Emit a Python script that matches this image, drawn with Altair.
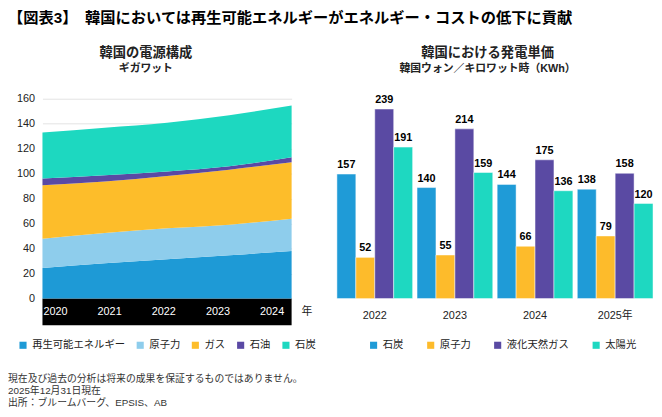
import altair as alt
import pandas as pd

FONT = "Liberation Sans, Noto Sans CJK JP"
INK = "#222222"

# 左: 韓国の電源構成（ギガワット）
years = [2020, 2021, 2022, 2023, 2024]
sources = ["再生可能エネルギー", "原子力", "ガス", "石油", "石炭"]
renewable = [24.5, 28.4, 31.6, 34.7, 38.2]
nuclear = [23.4, 24.2, 24.7, 24.5, 25.7]
gas = [42.9, 41.1, 41.9, 44.0, 45.3]
oil = [5.3, 5.0, 3.6, 2.8, 4.0]
coal = [36.8, 38.1, 39.0, 40.8, 41.3]
source_colors = ["#1E9AD6", "#8ECDEC", "#FDBD2A", "#5A49A4", "#1DD8C0"]

# 右: 韓国における発電単価（韓国ウォン／キロワット時）
cost_years = ["2022", "2023", "2024", "2025年"]
fuels = ["石炭", "原子力", "液化天然ガス", "太陽光"]
cost_coal = [157, 140, 144, 138]
cost_nuclear = [52, 55, 66, 79]
cost_lng = [239, 214, 175, 158]
cost_solar = [191, 159, 136, 120]
fuel_colors = ["#1F9BD7", "#FDBB2B", "#5A4AA3", "#1ED8C1"]

TITLE = "【図表3】　韓国においては再生可能エネルギーがエネルギー・コストの低下に貢献"
NOTES = [
    "現在及び過去の分析は将来の成果を保証するものではありません。",
    "2025年12月31日現在",
    "出所：ブルームバーグ、EPSIS、AB",
]

W1, W2, H = 253, 321, 203


def label(text, x, y, size, weight="normal", align="center", color=INK, baseline="middle", **kw):
    return alt.Chart(pd.DataFrame({"t": [0]})).mark_text(
        align=align, baseline=baseline, fontSize=size, fontWeight=weight, color=color, font=FONT, **kw
    ).encode(x=alt.value(x), y=alt.value(y), text=alt.value(text))


def legend(x, pad):
    return alt.Legend(orient="none", legendX=x, legendY=245, direction="horizontal", title=None,
                      symbolType="square", symbolSize=52, symbolStrokeWidth=0, labelFontSize=10.5,
                      labelColor=INK, labelFont=FONT, labelOffset=4, columnPadding=pad)


# ---- left panel: stacked area ----
mix = pd.DataFrame({"年": years, "再生可能エネルギー": renewable, "原子力": nuclear,
                    "ガス": gas, "石油": oil, "石炭": coal}).melt("年", var_name="電源", value_name="GW")
mix["順"] = mix["電源"].map({s: i for i, s in enumerate(sources)})

year_scale = alt.Scale(domain=[years[0], years[-1]], nice=False, zero=False)

area = alt.Chart(mix).mark_area(interpolate="monotone").encode(
    x=alt.X("年:Q", scale=year_scale, axis=None),
    y=alt.Y("GW:Q", stack="zero", scale=alt.Scale(domain=[0, 160], nice=False),
            axis=alt.Axis(values=list(range(0, 161, 20)), title=None, ticks=False, domain=False,
                          labelPadding=8, gridColor="#E3E3E3", labelColor=INK, labelFontSize=11)),
    color=alt.Color("電源:N", scale=alt.Scale(domain=sources, range=source_colors), legend=legend(-25, 10)),
    order=alt.Order("順:Q", sort="ascending"),
)
band = alt.Chart(pd.DataFrame({"始": [years[0]], "終": [years[-1]]})).mark_rect(color="black").encode(
    x=alt.X("始:Q", scale=year_scale, axis=None), x2="終:Q", y=alt.value(H), y2=alt.value(H + 27))

# year labels sit evenly inside the black band (not on the area's edges)
year_labels = alt.Chart(pd.DataFrame({"年": [str(y) for y in years]})).mark_text(
    color="white", fontSize=11, baseline="middle", font=FONT
).encode(
    x=alt.X("年:O", sort=None, scale=alt.Scale(type="point", padding=0.3, align=0.4), axis=None),
    y=alt.value(H + 13.5),
    text="年:O",
)

left = alt.layer(
    alt.layer(band, area), year_labels,
    label("年", W1 + 10, H + 14, 11, align="left"),
    label("韓国の電源構成", 105, -46, 13.5, "bold"),
    label("ギガワット", 105, -30, 11, "bold"),
    label(NOTES, -35, 280, 10, align="left", baseline="top", color="#333333", lineHeight=11.8),
).resolve_scale(x="independent").properties(width=W1, height=H)

# ---- right panel: grouped bars ----
cost = pd.DataFrame({"年": cost_years, "石炭": cost_coal, "原子力": cost_nuclear,
                     "液化天然ガス": cost_lng, "太陽光": cost_solar}).melt("年", var_name="種類", value_name="単価")

base = alt.Chart(cost).encode(
    x=alt.X("年:N", sort=cost_years, scale=alt.Scale(paddingInner=0.055, paddingOuter=0),
            axis=alt.Axis(title=None, labelAngle=0, ticks=False, domain=False, labelPadding=11,
                          labelFontSize=11, labelColor=INK)),
    xOffset=alt.XOffset("種類:N", sort=fuels, scale=alt.Scale(paddingInner=0, paddingOuter=0)),
    y=alt.Y("単価:Q", scale=alt.Scale(domain=[0, 252], nice=False), axis=None),
)
bars = base.mark_bar(stroke="white", strokeWidth=0.8, strokeOpacity=0.6).encode(
    color=alt.Color("種類:N", scale=alt.Scale(domain=fuels, range=fuel_colors), legend=legend(32, 22)))
vals = base.mark_text(baseline="bottom", dy=-4, fontSize=11, fontWeight="bold", color="black").encode(
    text="単価:Q")

right = alt.layer(
    bars, vals,
    label("韓国における発電単価", 153, -46, 13.5, "bold"),
    label("韓国ウォン／キロワット時（KWh）", 153, -30, 11, "bold"),
).properties(width=W2, height=H)

chart = alt.hconcat(left, right, spacing=20).resolve_scale(
    color="independent", x="independent", y="independent"
).resolve_legend(color="independent").properties(
    title=alt.TitleParams(TITLE, anchor="start", fontSize=15.5, fontWeight="bold", font=FONT,
                          color="black", offset=20),
    padding=0,
).configure_view(stroke=None).configure_axis(labelFont=FONT).configure_text(font=FONT)

chart.save("out.html", embed_options={"renderer": "svg", "actions": False})
